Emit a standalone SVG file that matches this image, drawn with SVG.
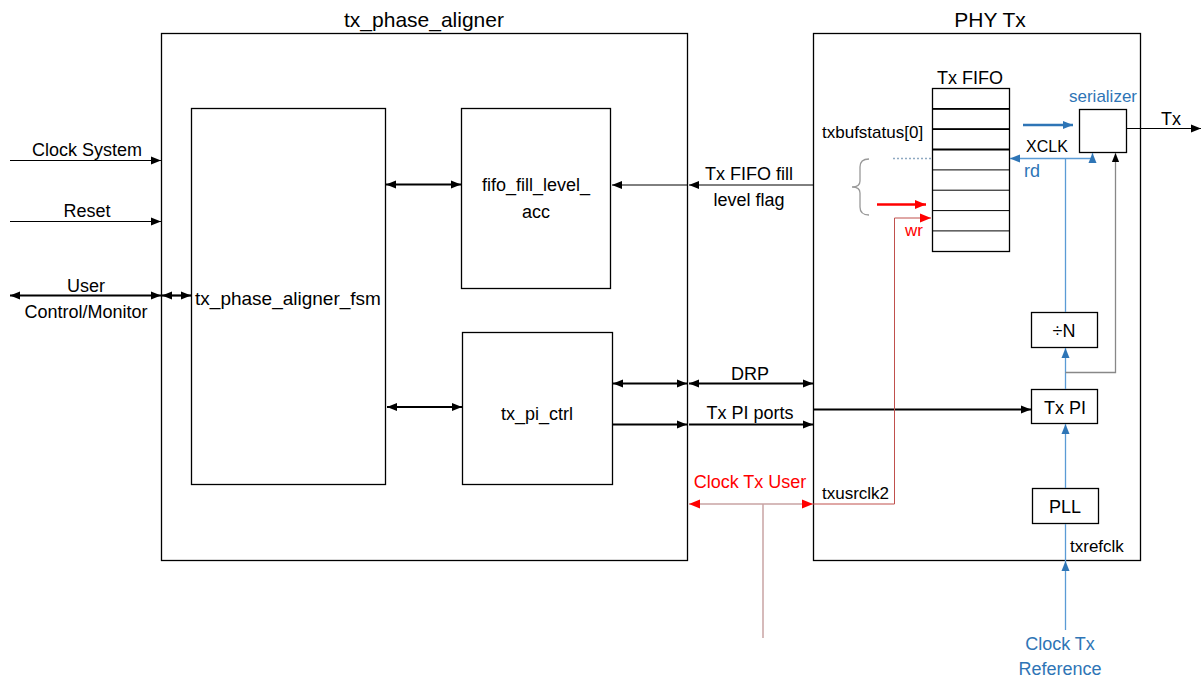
<svg xmlns="http://www.w3.org/2000/svg" width="1202" height="679" viewBox="0 0 1202 679">
<style>
text{font-family:"Liberation Sans",Arial,sans-serif;font-size:18px;fill:#000}
.t{font-size:21px}
.c{text-anchor:middle}
.s{font-size:17px}
.blue{fill:#2E75B6}
.red{fill:#FF0000}
.box{fill:#fff;stroke:#000;stroke-width:1.3}
.thin{stroke:#000;stroke-width:1;fill:none}
.bl{stroke:#5B9BD5;stroke-width:1.3;fill:none}
.gr{stroke:#888;stroke-width:1.3;fill:none}
.rl{stroke:#C0504D;stroke-width:1;fill:none}
</style>
<defs>
<marker id="ah" viewBox="0 0 10 10" refX="10" refY="5" markerWidth="10" markerHeight="10" markerUnits="userSpaceOnUse" orient="auto-start-reverse"><path d="M0,1 L10,5 L0,9 z" fill="#000"/></marker>
<marker id="ahb" viewBox="0 0 10 10" refX="10" refY="5" markerWidth="10" markerHeight="10" markerUnits="userSpaceOnUse" orient="auto-start-reverse"><path d="M0,1 L10,5 L0,9 z" fill="#2E75B6"/></marker>
<marker id="ahr" viewBox="0 0 10 10" refX="10" refY="5" markerWidth="11" markerHeight="11" markerUnits="userSpaceOnUse" orient="auto-start-reverse"><path d="M0,1 L10,5 L0,9 z" fill="#FF0000"/></marker>
<marker id="ahg" viewBox="0 0 10 10" refX="10" refY="5" markerWidth="9" markerHeight="9" markerUnits="userSpaceOnUse" orient="auto-start-reverse"><path d="M0,1 L10,5 L0,9 z" fill="#000"/></marker>
</defs>

<g id="tx_phase_aligner">
<rect class="box" x="161.5" y="33.5" width="526" height="527"/>
<text class="t c" x="424" y="27">tx_phase_aligner</text>
</g>
<g id="phy_tx">
<rect class="box" x="813.5" y="33.5" width="327" height="527"/>
<text class="t c" x="990" y="27">PHY Tx</text>
</g>
<g id="fsm">
<rect class="box" x="191.5" y="108.5" width="194" height="376"/>
<text class="c" x="288" y="305" style="font-size:19px">tx_phase_aligner_fsm</text>
</g>
<g id="fifo_fill_level_acc">
<rect class="box" x="461.5" y="108.5" width="149" height="180"/>
<text class="c" x="536" y="191">fifo_fill_level_</text>
<text class="c" x="536" y="218">acc</text>
</g>
<g id="tx_pi_ctrl">
<rect class="box" x="462.5" y="332.5" width="150" height="152"/>
<text class="c" x="537" y="420">tx_pi_ctrl</text>
</g>
<g id="tx_fifo">
<text class="c" x="970" y="84">Tx FIFO</text>
<rect class="box" x="932.5" y="88.5" width="77" height="163"/>
<path class="thin" d="M932.5 108.8H1009.5M932.5 129.2H1009.5M932.5 149.5H1009.5M932.5 169.9H1009.5M932.5 190.2H1009.5M932.5 210.6H1009.5M932.5 230.9H1009.5"/>
<path stroke="#000" stroke-width="1.8" d="M932.5 108.8H1009.5M932.5 129.2H1009.5M932.5 149.5H1009.5"/>
</g>
<g id="serializer">
<rect class="box" x="1079.5" y="109.5" width="47" height="43"/>
<text class="blue c" x="1103" y="102" style="font-size:17px">serializer</text>
</g>
<g id="divn">
<rect class="box" x="1031.5" y="312.5" width="66" height="35"/>
<text class="c" x="1064" y="337">÷N</text>
</g>
<g id="txpi">
<rect class="box" x="1031.5" y="389.5" width="66" height="34"/>
<text class="c" x="1065" y="414">Tx PI</text>
</g>
<g id="pll">
<rect class="box" x="1032.5" y="488.5" width="66" height="35"/>
<text class="c" x="1065" y="513">PLL</text>
</g>

<g id="connectors">
<line class="thin" x1="10" y1="160.5" x2="161" y2="160.5" marker-end="url(#ah)"/>
<line class="thin" x1="10" y1="221.5" x2="161" y2="221.5" marker-end="url(#ah)"/>
<line stroke="#000" stroke-width="2.2" x1="10" y1="295.5" x2="161" y2="295.5" marker-start="url(#ah)" marker-end="url(#ah)"/>
<line stroke="#000" stroke-width="2.2" x1="162" y1="295.5" x2="191" y2="295.5" marker-start="url(#ah)" marker-end="url(#ah)"/>
<line stroke="#000" stroke-width="2.2" x1="386" y1="184.5" x2="461" y2="184.5" marker-start="url(#ah)" marker-end="url(#ah)"/>
<line stroke="#000" stroke-width="2.2" x1="387" y1="407" x2="462" y2="407" marker-start="url(#ah)" marker-end="url(#ah)"/>
<line class="thin" x1="813" y1="185" x2="689" y2="185" marker-end="url(#ah)"/>
<line class="thin" x1="687" y1="185" x2="612" y2="185" marker-end="url(#ah)"/>
<line stroke="#000" stroke-width="2.2" x1="613" y1="383.5" x2="687" y2="383.5" marker-start="url(#ah)" marker-end="url(#ah)"/>
<line stroke="#000" stroke-width="2.2" x1="689" y1="383.5" x2="813" y2="383.5" marker-start="url(#ah)" marker-end="url(#ah)"/>
<line stroke="#000" stroke-width="2.2" x1="613" y1="424.5" x2="687" y2="424.5" marker-end="url(#ah)"/>
<line stroke="#000" stroke-width="2.2" x1="689" y1="424.5" x2="813" y2="424.5" marker-end="url(#ah)"/>
<line stroke="#000" stroke-width="2.2" x1="814" y1="409.5" x2="1031" y2="409.5" marker-end="url(#ah)"/>
<line stroke="#C9A3A3" stroke-width="1.5" x1="689" y1="504" x2="813" y2="504" marker-start="url(#ahr)" marker-end="url(#ahr)"/>
<line stroke="#C9A3A3" stroke-width="1.5" x1="763" y1="504" x2="763" y2="638"/>
<path class="rl" d="M813 504H894.5V218H931" marker-end="url(#ahr)"/>
<line stroke="#FF0000" stroke-width="2.5" x1="877" y1="204.5" x2="926" y2="204.5" marker-end="url(#ahr)"/>
<path d="M869 159 Q860 159 860 167 V181 Q860 187 852 187 Q860 187 860 193 V207 Q860 215 869 215" stroke="#999" stroke-width="1.3" fill="none"/>
<line stroke="#8EA9C1" stroke-width="1.3" stroke-dasharray="2,2" x1="893" y1="158.5" x2="932" y2="158.5"/>
<line stroke="#2E75B6" stroke-width="2.5" x1="1023" y1="125" x2="1073" y2="125" marker-end="url(#ahb)"/>
<path class="bl" d="M1092.5 153V158.5H1010" marker-start="url(#ahb)" marker-end="url(#ahb)"/>
<line class="bl" x1="1065.5" y1="158.5" x2="1065.5" y2="312"/>
<line class="bl" x1="1065.5" y1="389" x2="1065.5" y2="348" marker-end="url(#ahb)"/>
<line class="bl" x1="1065.5" y1="488" x2="1065.5" y2="424" marker-end="url(#ahb)"/>
<line class="bl" x1="1065.5" y1="630" x2="1065.5" y2="561" marker-end="url(#ahb)"/>
<line class="bl" x1="1065.5" y1="561" x2="1065.5" y2="524"/>
<path class="gr" d="M1065.5 372.5H1115.5V153" marker-end="url(#ahg)"/>
<line class="thin" x1="1127" y1="128.5" x2="1201" y2="128.5" marker-end="url(#ah)"/>
</g>

<g id="labels">
<text class="c" x="87" y="156">Clock System</text>
<text class="c" x="87" y="217">Reset</text>
<text class="c" x="86" y="292">User</text>
<text class="c" x="86" y="318">Control/Monitor</text>
<text class="c" x="749" y="180">Tx FIFO fill</text>
<text class="c" x="749" y="206">level flag</text>
<text class="c" x="750" y="380">DRP</text>
<text class="c" x="750" y="419">Tx PI ports</text>
<text class="red c" x="750" y="488">Clock Tx User</text>
<text class="s" x="822" y="499">txusrclk2</text>
<text class="s" x="822" y="138">txbufstatus[0]</text>
<text x="1026" y="152" style="font-size:16px">XCLK</text>
<text class="blue" x="1024" y="177">rd</text>
<text class="red" x="905" y="236" style="font-size:17px">wr</text>
<text x="1161" y="125">Tx</text>
<text class="s" x="1070" y="552">txrefclk</text>
<text class="blue c" x="1060" y="650">Clock Tx</text>
<text class="blue c" x="1060" y="675">Reference</text>
</g>
</svg>
